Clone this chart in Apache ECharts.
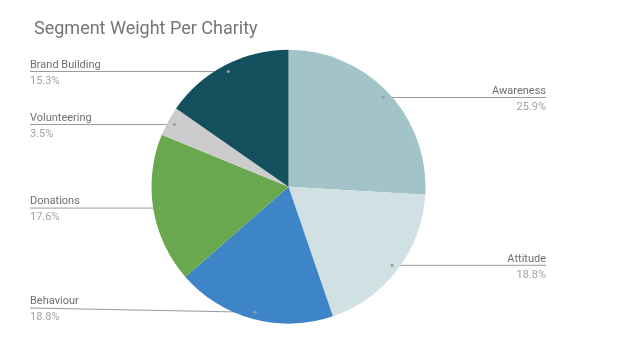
<!DOCTYPE html>
<html>
<head>
<meta charset="utf-8">
<script src="https://cdn.jsdelivr.net/npm/echarts@6/dist/echarts.min.js"></script>
<style>
html,body{margin:0;padding:0;background:#fff;}
#chart{width:638px;height:359px;}
</style>
</head>
<body>
<div id="chart"></div>
<script>
const categories = ['Awareness', 'Attitude', 'Behaviour', 'Donations', 'Volunteering', 'Brand Building'];
const values = [25.9, 18.8, 18.8, 17.6, 3.5, 15.3];
const colors = ['#a2c4c9', '#d0e0e3', '#3d85c6', '#6aa84f', '#cccccc', '#134f5c'];

const CX = 288.5, CY = 186.7, R = 137, DOT_R = 130;
const total = values.reduce((a, b) => a + b, 0);
const mids = [];
let acc = 0;
values.forEach(v => { mids.push((acc + v / 2) / total * 2 * Math.PI); acc += v; });
function dotPoint(i) {
  const a = mids[i];
  return [CX + DOT_R * Math.sin(a), CY - DOT_R * Math.cos(a)];
}

const chart = echarts.init(document.getElementById('chart'), null, {renderer: 'canvas'});
const option = {
  backgroundColor: '#ffffff',
  animation: false,
  title: {
    text: 'Segment Weight Per Charity',
    left: 29, top: 15,
    textStyle: {fontFamily: 'Roboto', fontSize: 18, fontWeight: 'normal', color: '#757575'}
  },
  graphic: categories.map((c, i) => {
    const p = dotPoint(i);
    return {type: 'circle', shape: {cx: p[0], cy: p[1], r: 1.5}, style: {fill: '#9a9a9a'}, z: 100};
  }),
  series: [{
    type: 'pie',
    center: [CX, CY],
    radius: R,
    startAngle: 90,
    clockwise: true,
    avoidLabelOverlap: false,
    data: categories.map((c, i) => ({name: c, value: values[i], itemStyle: {color: colors[i]}})),
    label: {
      show: true,
      formatter: p => '{n|' + p.name + '}\n{p|' + p.value + '%}',
      rich: {
        n: {fontFamily: 'Roboto', fontSize: 11, color: '#6f6f6f', lineHeight: 16},
        p: {fontFamily: 'Roboto', fontSize: 11, color: '#a3a3a3', lineHeight: 16}
      }
    },
    labelLine: {show: true, lineStyle: {color: '#9a9a9a', width: 1}},
    labelLayout: function (params) {
      const i = params.dataIndex;
      const p = dotPoint(i);
      const right = p[0] > CX;
      const ly = Math.min(p[1], 308);
      const lx = right ? 546 : 30;
      return {
        x: lx, y: ly + 1.5,
        align: right ? 'right' : 'left',
        verticalAlign: 'middle',
        labelLinePoints: [[p[0], p[1]], [lx, ly], [lx, ly]]
      };
    },
    emphasis: {disabled: true}
  }]
};
chart.setOption(option);
</script>
</body>
</html>
